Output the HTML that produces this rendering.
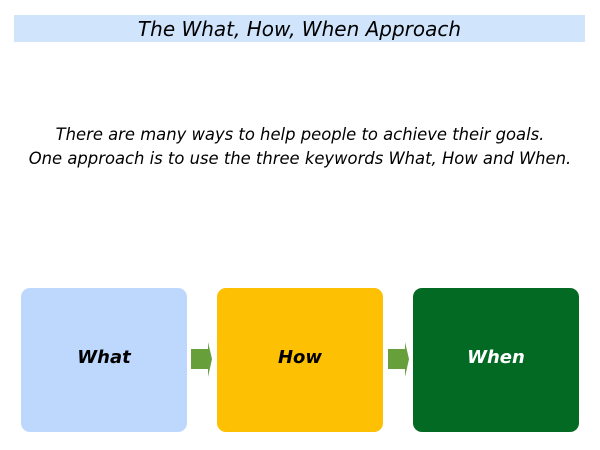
<!DOCTYPE html>
<html><head><style>
body{margin:0;width:600px;height:450px;background:#fff;position:relative;overflow:hidden;font-family:"DejaVu Sans","Liberation Sans",sans-serif;font-style:italic}
.t{position:absolute;left:14px;top:15px;width:571px;height:27px;background:#d0e4fc;text-align:center;font-size:20px;line-height:28px;color:#000}
.p{position:absolute;left:0;width:600px;text-align:center;font-size:16.4px;line-height:20px;color:#000}
.b{position:absolute;top:288px;height:144px;width:166px;border-radius:9px;display:flex;align-items:center;justify-content:center;font-weight:bold;font-size:18px;padding-bottom:6px;box-sizing:border-box}
</style></head><body>
<div class="t">The What, How, When Approach</div>
<div class="p" style="top:125px">There are many ways to help people to achieve their goals.</div>
<div class="p" style="top:149px">One approach is to use the three keywords What, How and When.</div>
<div class="b" style="left:21px;background:#bdd7fd;color:#000">What</div>
<div class="b" style="left:217px;background:#fec002;color:#000">How</div>
<div class="b" style="left:413px;background:#036a23;color:#fff">When</div>
<svg style="position:absolute;left:0;top:0" width="600" height="450">
<polygon points="191,349 208,349 208,342 212,359 208,377 208,369 191,369" fill="#67a03b"/>
<polygon points="388,349 405,349 405,342 409,359 405,377 405,369 388,369" fill="#67a03b"/>
</svg>
</body></html>
